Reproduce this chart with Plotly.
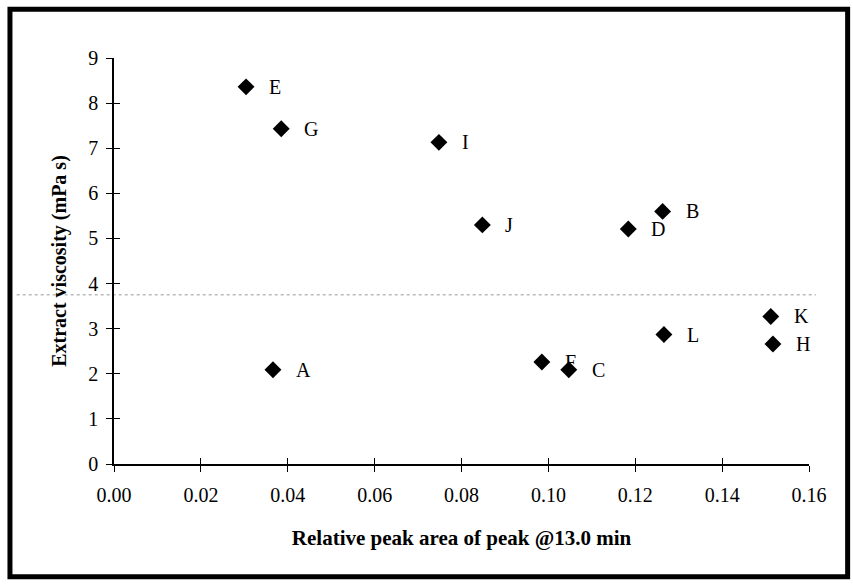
import plotly.graph_objects as go

# Data
labels = ["A", "B", "C", "D", "E", "F", "G", "H", "I", "J", "K", "L"]
peak_area = [0.0366, 0.1263, 0.1047, 0.1184, 0.0304, 0.0985, 0.0385, 0.1517, 0.0748, 0.0848, 0.1512, 0.1266]
viscosity = [2.09, 5.60, 2.09, 5.21, 8.36, 2.26, 7.43, 2.66, 7.13, 5.30, 3.27, 2.87]

x_ticks = [0.00, 0.02, 0.04, 0.06, 0.08, 0.10, 0.12, 0.14, 0.16]
x_tick_text = ["0.00", "0.02", "0.04", "0.06", "0.08", "0.10", "0.12", "0.14", "0.16"]
y_ticks = [0, 1, 2, 3, 4, 5, 6, 7, 8, 9]

FONT = "Liberation Serif"

fig = go.Figure()
fig.add_trace(go.Scatter(
    x=peak_area, y=viscosity, mode="markers",
    marker=dict(symbol="diamond", size=13, color="black"),
    showlegend=False, hoverinfo="skip",
))
# invisible trace on overlay axes (for crossing tick marks)
fig.add_trace(go.Scatter(
    x=peak_area, y=viscosity, mode="markers", xaxis="x2", yaxis="y2",
    marker=dict(size=1, opacity=0), showlegend=False, hoverinfo="skip",
))

for lab, xv, yv in zip(labels, peak_area, viscosity):
    fig.add_annotation(x=xv, y=yv, text=lab, showarrow=False,
                       xanchor="left", yanchor="middle", xshift=21,
                       font=dict(family=FONT, size=20, color="black"))

axis_common = dict(showgrid=False, zeroline=False, showline=True,
                   linecolor="black", linewidth=1.5, tickcolor="black",
                   tickwidth=1.2, ticklen=6,
                   tickfont=dict(family=FONT, size=20, color="black"))

fig.update_layout(
    width=853, height=584,
    margin=dict(l=114, r=44, t=58, b=120),
    paper_bgcolor="white", plot_bgcolor="white",
    font=dict(family=FONT, size=20, color="black"),
    xaxis=dict(range=[0, 0.16], tickvals=x_ticks, ticktext=x_tick_text,
               ticks="outside", ticklabelstandoff=6,
               title=dict(text="<b>Relative peak area of peak @13.0 min</b>",
                          font=dict(family=FONT, size=21, color="black"), standoff=26),
               **axis_common),
    yaxis=dict(range=[0, 9], tickvals=y_ticks, ticks="outside", ticklabelstandoff=4,
               title=dict(text="<b>Extract viscosity (mPa s)</b>",
                          font=dict(family=FONT, size=20, color="black"), standoff=16),
               **axis_common),
    xaxis2=dict(range=[0, 0.16], tickvals=x_ticks, ticks="inside",
                overlaying="x", anchor="y2", showticklabels=False,
                showgrid=False, zeroline=False, showline=False,
                tickcolor="black", tickwidth=1.2, ticklen=6),
    yaxis2=dict(range=[0, 9], tickvals=y_ticks, ticks="inside",
                overlaying="y", anchor="x2", showticklabels=False,
                showgrid=False, zeroline=False, showline=False,
                tickcolor="black", tickwidth=1.2, ticklen=6),
)

# outer frame of the scanned figure
fig.add_shape(type="rect", xref="paper", yref="paper",
              x0=-0.1497, x1=1.0556, y0=-0.2776, y1=1.1202,
              line=dict(color="black", width=5), layer="below")
# faint dotted scan artefact line
fig.add_shape(type="line", xref="paper", yref="y",
              x0=-0.14, x1=1.01, y0=3.75, y1=3.75,
              line=dict(color="#999999", width=1, dash="dot"), layer="below")

fig.write_html("out.html")
